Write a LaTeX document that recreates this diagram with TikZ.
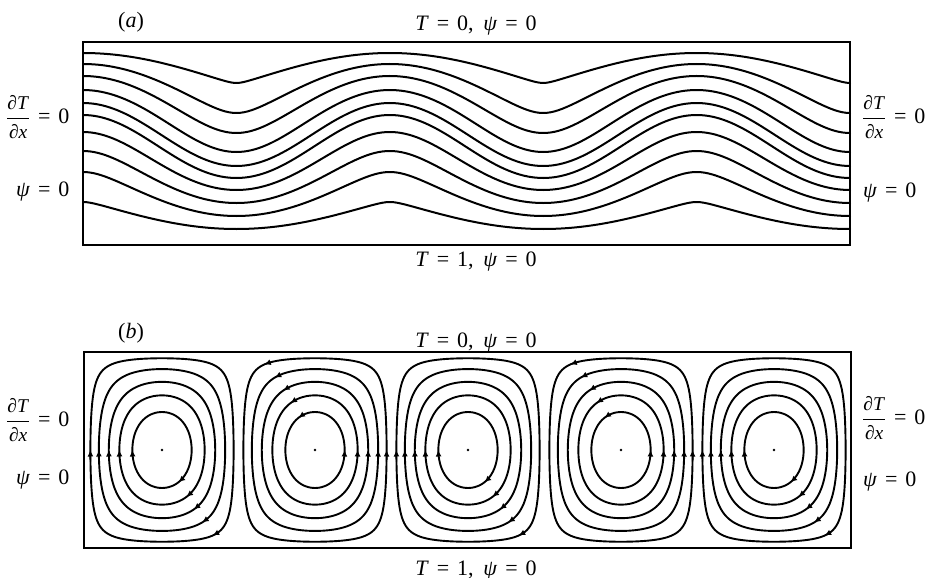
\documentclass[tikz,border=0pt]{standalone}
\usepackage{fontspec}
\setmainfont{Liberation Serif}
\usetikzlibrary{arrows.meta}
\newcommand{\eqsp}{\hspace{0.36em}=\hspace{0.36em}}
\newcommand{\fracfs}{\fontsize{19.5}{20}\selectfont}
\newcommand{\dTdx}{$\displaystyle\frac{\hbox{\fracfs ∂\textit{T}}}{\hbox{\fracfs ∂\textit{x}}}$}
\newcommand{\psieq}{\textit{ψ}\eqsp 0}
\begin{document}
\begin{tikzpicture}[x=1pt,y=-1pt,line cap=round,line join=round,
  iso/.style={line width=2pt},
  stream/.style={line width=1.9pt},
  frame/.style={line width=2.5pt,line cap=butt,line join=miter},
  lbl/.style={inner sep=0pt,font=\fontsize{22}{25}\selectfont},
  tipmark/.style={-{Latex[length=6.5pt,width=6pt]},line width=1.4pt},
  declare function={
    ph(\x)=(\x-83)/153.4*180;
    cc(\x)=cos(ph(\x)/2)*cos(ph(\x)/2);
    ss(\x)=sin(ph(\x)/2)*sin(ph(\x)/2);
    htop(\x,\e)=(sqrt(cc(\x)+\e)-sqrt(\e))/(sqrt(1+\e)-sqrt(\e));
    hbot(\x,\e)=1-(sqrt(ss(\x)+\e)-sqrt(\e))/(sqrt(1+\e)-sqrt(\e));
    fx(\lev,\ang)=(cos(\ang)<0 ? -1 : 1)*(90-asin(min(1,pow(\lev,cos(\ang)*cos(\ang)))))/90*76.5;
    fy(\lev,\ang)=(sin(\ang)<0 ? -1 : 1)*(90-asin(min(1,pow(\lev,sin(\ang)*sin(\ang)))))/90*98;
  }]
\useasboundingbox (0,0) rectangle (932,578);

% ---------- panel (a): isotherms ----------
\foreach \ya/\yb/\ee in {53/83/0.006, 64/113/0.06, 76/133/0.25, 90/152/0.8, 103/166/6}
  \draw[iso] plot[domain=83:850,samples=201,variable=\x] (\x,{\yb-(\yb-\ya)*htop(\x,\ee)});
\foreach \ya/\yb/\ee in {115/178/6, 132/190/0.8, 151/203/0.25, 172/216/0.08, 202/229/0.01}
  \draw[iso] plot[domain=83:850,samples=201,variable=\x] (\x,{\yb-(\yb-\ya)*hbot(\x,\ee)});
\draw[frame] (83,42) rectangle (850,245);

\node[lbl,anchor=base] (la) at (131,27.5) {(\textit{a})};
\node[lbl,anchor=base] (topa) at (476,31) {\textit{T}\eqsp 0,\hspace{0.45em}\psieq};
\node[lbl,anchor=base] (bota) at (476,266) {\textit{T}\eqsp 1,\hspace{0.45em}\psieq};
\node[lbl,anchor=west] (lfa) at (6,117) {\dTdx\eqsp 0};
\node[lbl,anchor=base west] (lpa) at (16,196) {\psieq};
\node[lbl,anchor=west] (rfa) at (862,117) {\dTdx\eqsp 0};
\node[lbl,anchor=base west] (rpa) at (863,197) {\psieq};

% ---------- panel (b): streamlines ----------
\foreach \i in {0,...,4}{
  \pgfmathsetmacro\cx{162+153*\i}
  \foreach \lv in {0.1,0.27,0.46,0.64,0.82}{
    \draw[stream] plot[domain=0:360,samples=145,variable=\t]
      ({\cx+fx(\lv,\t)},{450+fy(\lv,\t)}) -- cycle;
    \ifodd\i
      \draw[tipmark] ({\cx+fx(\lv,5)},{450+fy(\lv,5)}) -- ({\cx+fx(\lv,0)},{450+fy(\lv,0)});
      \draw[tipmark] ({\cx+fx(\lv,242)},{450+fy(\lv,242)}) -- ({\cx+fx(\lv,237)},{450+fy(\lv,237)});
    \else
      \draw[tipmark] ({\cx+fx(\lv,175)},{450+fy(\lv,175)}) -- ({\cx+fx(\lv,180)},{450+fy(\lv,180)});
      \draw[tipmark] ({\cx+fx(\lv,52)},{450+fy(\lv,52)}) -- ({\cx+fx(\lv,57)},{450+fy(\lv,57)});
    \fi
  }
  \fill (\cx,450) circle (1.3);
}
\draw[frame] (84,352) rectangle (851,548);

\node[lbl,anchor=base] (lb) at (131,338) {(\textit{b})};
\node[lbl,anchor=base] (topb) at (476,347) {\textit{T}\eqsp 0,\hspace{0.45em}\psieq};
\node[lbl,anchor=base] (botb) at (476,575) {\textit{T}\eqsp 1,\hspace{0.45em}\psieq};
\node[lbl,anchor=west] (lfb) at (6,420) {\dTdx\eqsp 0};
\node[lbl,anchor=base west] (lpb) at (16,484) {\psieq};
\node[lbl,anchor=west] (rfb) at (862,418) {\dTdx\eqsp 0};
\node[lbl,anchor=base west] (rpb) at (863,486) {\psieq};
\end{tikzpicture}
\end{document}
